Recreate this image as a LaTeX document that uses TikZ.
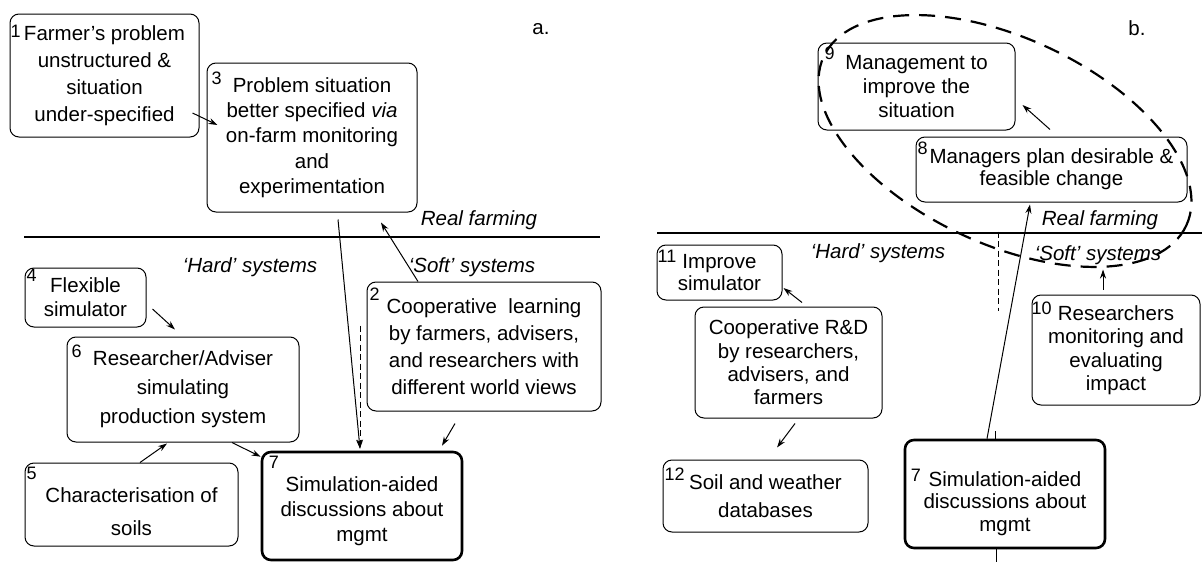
\documentclass[tikz,border=0pt]{standalone}
\usepackage{fontspec}
\setmainfont{Liberation Sans}
\usepackage{tikz}
\usetikzlibrary{shapes,arrows.meta}
\newcommand{\boxfont}[1][26]{\fontsize{20.5}{#1}\selectfont}
\newcommand{\numfont}{\fontsize{18}{18}\selectfont}
\newcommand{\dropby}[2]{\raisebox{-#1}[\height][\depth]{\begin{tabular}{@{}c@{}}#2\end{tabular}}}

\begin{document}
\begin{tikzpicture}[x=1pt,y=-1pt]
\tikzstyle{every node}=[font=\boxfont]
\tikzstyle{box}=[draw, rounded corners=9pt, line width=1pt, align=center, inner sep=0pt]
\tikzstyle{thickbox}=[box, line width=2.6pt]
\tikzstyle{num}=[font=\numfont, inner sep=0pt, anchor=north west]
\tikzstyle{lbl}=[font=\boxfont\itshape]
\tikzstyle{arr}=[line width=1pt, -{Stealth[length=9pt,width=6pt]}]
\tikzstyle{dashline}=[line width=1pt, dash pattern=on 6pt off 3.5pt]
\tikzstyle{ring}=[line width=2.2pt, dash pattern=on 16pt off 10pt]
\useasboundingbox (0,0) rectangle (1202,562);

% a. -- real farming above, systems below
\coordinate (aL) at (24,237);
\coordinate (aR) at (600,237);
\draw[line width=1.2pt] (aL) -- (aR);
\node (tagA) at (541,29) {a.};
\node[lbl] (realA) at (479,220) {Real farming};
\node[lbl] (hardA) at (250,267) {`Hard' systems};
\node[lbl] (softA) at (472,267) {`Soft' systems};

\node[box, minimum width=189pt, minimum height=123pt, font={\boxfont[27]}] (farmer) at (104.5,75.5) {Farmer's problem\\unstructured \&\\situation\\under-specified};
\node[box, minimum width=210pt, minimum height=149pt, font={\boxfont[25.3]}] (specified) at (312,137.5) {Problem situation\\better specified \textit{via}\\on-farm monitoring\\and\\experimentation};
\node[box, minimum width=234pt, minimum height=129pt, font={\boxfont[27]}] (coop) at (484,346.5) {Cooperative\ \ learning\\by farmers, advisers,\\and researchers with\\different world views};
\node[box, minimum width=121pt, minimum height=59pt, font={\boxfont[24]}] (flexsim) at (85.5,297.5) {Flexible\\simulator};
\node[box, minimum width=232pt, minimum height=105pt, font={\boxfont[29]}] (resadv) at (183,389.5) {Researcher/Adviser\\simulating\\production system};
\node[box, minimum width=213pt, minimum height=83pt, font={\boxfont[33]}] (soils) at (131.5,504.5) {\dropby{8pt}{Characterisation of\\soils}};
\node[thickbox, minimum width=200pt, minimum height=108pt, font={\boxfont[25]}] (discuss) at (362,506) {\dropby{5pt}{Simulation-aided\\discussions about\\mgmt}};

\node[num] (n1) at ([shift={(1,11)}]farmer.north west) {1};
\node[num] (n3) at ([shift={(5,9)}]specified.north west) {3};
\node[num] (n2) at ([shift={(3,6)}]coop.north west) {2};
\node[num] (n4) at ([shift={(2,1)}]flexsim.north west) {4};
\node[num] (n6) at ([shift={(5,8)}]resadv.north west) {6};
\node[num] (n5) at ([shift={(2,4)}]soils.north west) {5};
\node[num] (n7) at ([shift={(8,5)}]discuss.north west) {7};

\draw[arr] ([shift={(-7,37.5)}]farmer.east) -- ([shift={(11,-12.5)}]specified.west);
\draw[arr] ([shift={(26,7)}]specified.south) -- ([shift={(-2,-2)}]discuss.north);
\draw[arr, dashline] ([shift={(-2,-125)}]discuss.north) -- ([shift={(-2,-2)}]discuss.north);
\draw[arr] ([shift={(-66,0)}]coop.north) -- ([shift={(69,10)}]specified.south);
\draw[arr] ([shift={(6,11.5)}]flexsim.east) -- ([shift={(-8,-7)}]resadv.north);
\draw[arr] ([shift={(8.5,0)}]soils.north) -- ([shift={(-16,1)}]resadv.south);
\draw[arr] ([shift={(49,0)}]resadv.south) -- ([shift={(0,6)}]discuss.north west);
\draw[arr] ([shift={(-29,12)}]coop.south) -- ([shift={(80,-5)}]discuss.north);

% b. -- the managed part inside the ring
\coordinate (bL) at (657,233);
\coordinate (bR) at (1202,233);
\draw[line width=1.2pt] (bL) -- (bR);
\node (tagB) at (1137,28) {b.};
\node[lbl] (realB) at (1100,220) {Real farming};
\node[lbl] (hardB) at (878,253) {`Hard' systems};
\node[lbl] (softB) at (1098,255) {`Soft' systems};

\node[box, minimum width=197pt, minimum height=87pt, font={\boxfont[24]}] (manage) at (916.5,86.5) {Management to\\improve the\\situation};
\node[box, minimum width=271pt, minimum height=65pt, font={\boxfont[22]}] (plan) at (1051.5,169.5) {Managers plan desirable \&\\feasible change};
\node[box, minimum width=125pt, minimum height=55pt, font={\boxfont[22]}] (improve) at (719.5,272.5) {Improve\\simulator};
\node[box, minimum width=187pt, minimum height=111pt, font={\boxfont[23.3]}] (coopRD) at (788.5,362.5) {Cooperative R\&D\\by researchers,\\advisers, and\\farmers};
\node[box, minimum width=168pt, minimum height=110pt, font={\boxfont[23.5]}] (monitor) at (1116,350) {Researchers\\monitoring and\\evaluating\\impact};
\node[box, minimum width=205pt, minimum height=72pt, font={\boxfont[28]}] (databases) at (765.5,496) {Soil and weather\\databases};
\node[thickbox, minimum width=200pt, minimum height=108pt, font={\boxfont[22.5]}] (discussB) at (1005,494) {\dropby{10pt}{Simulation-aided\\discussions about\\mgmt}};

\node[num] (n9) at ([shift={(7,4)}]manage.north west) {9};
\node[num] (n8) at ([shift={(2,5)}]plan.north west) {8};
\node[num] (n11) at ([shift={(1,5)}]improve.north west) {11};
\node[num] (n10) at ([shift={(0,7)}]monitor.north west) {10};
\node[num] (n12) at ([shift={(2,8)}]databases.north west) {12};
\node[num] (n7b) at ([shift={(7,30)}]discussB.north west) {7};

\draw[ring, rotate around={-25:(1005,141)}] (1005,141) ellipse [x radius=200, y radius=103];

\draw[arr] ([shift={(-1.5,-7)}]plan.north) -- ([shift={(7,18.5)}]manage.east);
\draw[arr] ([shift={(-18,0)}]discussB.north) -- ([shift={(-21.5,2)}]plan.south);
\draw[dashline] ([shift={(-7,-207)}]discussB.north) -- ([shift={(-7,-128)}]discussB.north);
\draw[line width=1pt] ([xshift=-10pt]discussB.north) -- ++(0,-8);
\draw[line width=1pt] ([xshift=-9pt]discussB.south) -- ++(0,14);
\draw[arr] ([shift={(13.5,-4)}]coopRD.north) -- ([shift={(1,15.5)}]improve.east);
\draw[arr] ([shift={(6.5,5)}]coopRD.south) -- ([shift={(11.5,-12)}]databases.north);
\draw[arr] ([shift={(-13,-5)}]monitor.north) -- ([shift={(-13,-25)}]monitor.north);
\end{tikzpicture}
\end{document}
